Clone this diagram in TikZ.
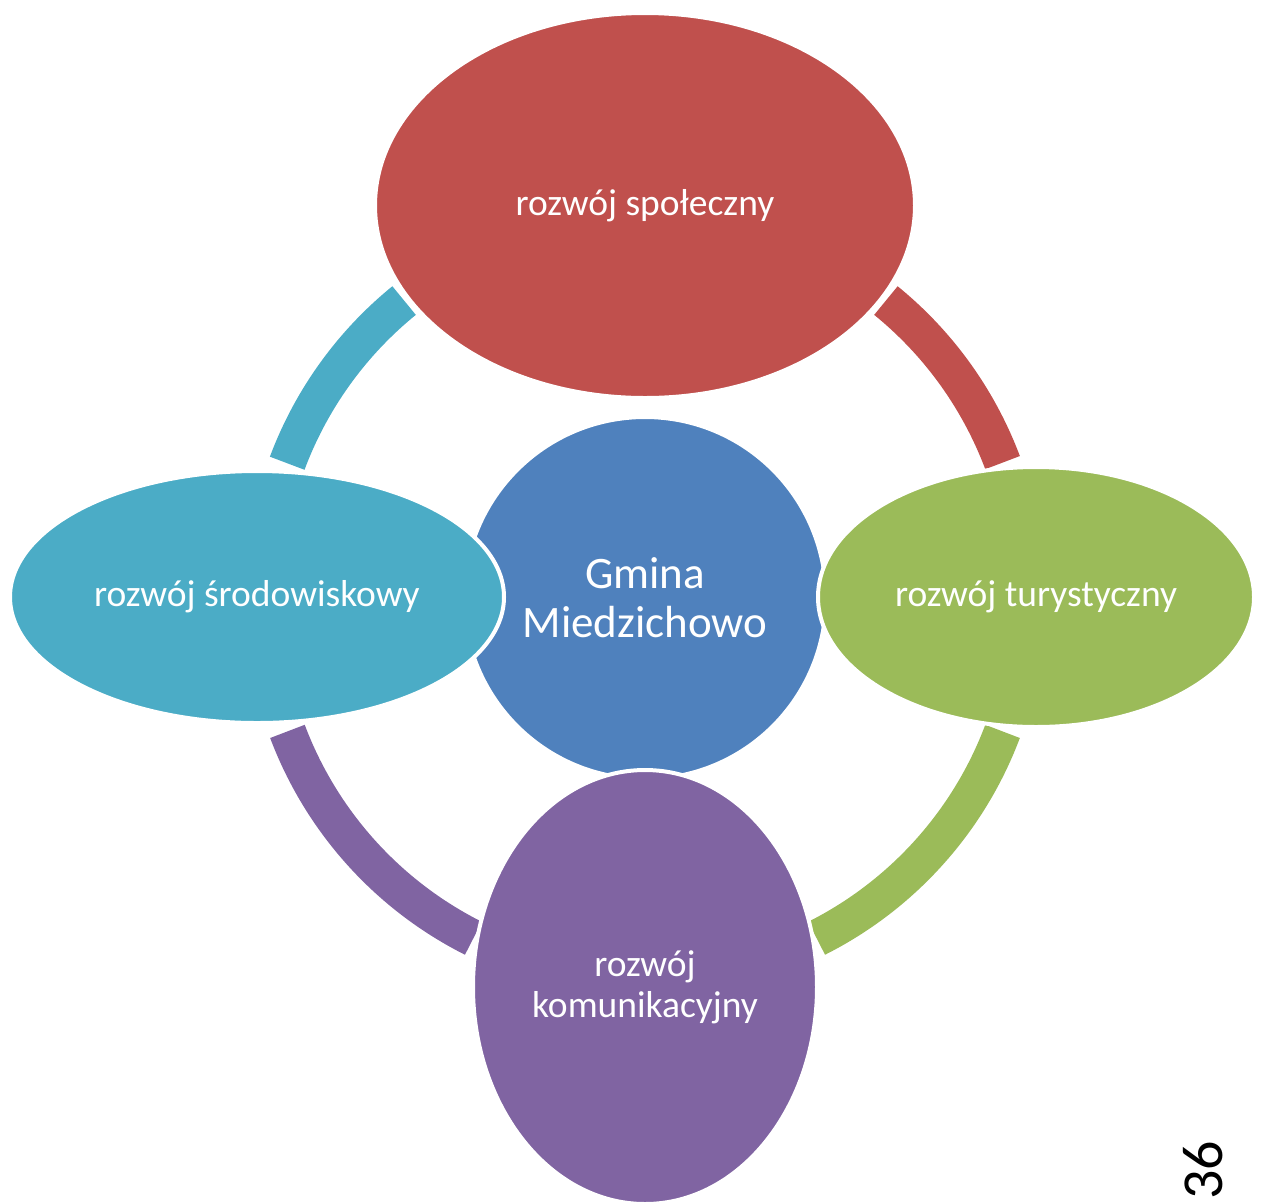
\documentclass[tikz,border=0pt]{standalone}
\usepackage{fontspec}
\setmainfont{Carlito}
\usetikzlibrary{shapes.geometric}
\definecolor{cred}{HTML}{C0504D}
\definecolor{cblue}{HTML}{4F81BD}
\definecolor{cteal}{HTML}{4BACC6}
\definecolor{cgreen}{HTML}{9BBB59}
\definecolor{cpurple}{HTML}{8064A2}
\tikzset{
  blob/.style={ellipse, inner sep=0pt, draw=white, line width=4pt, text=white, align=center},
  ringarc/.style={line width=37pt, line cap=butt},
  lbl/.style={font=\fontsize{37.5}{41}\selectfont},
}
\begin{document}
\begin{tikzpicture}[x=1pt,y=1pt]
\useasboundingbox (0,0) rectangle (1261,-1203);
\coordinate (c) at (645,-597);
% ring arcs
\draw[ringarc, cred]    ([shift={(20.6:382)}]c) arc[start angle=20.6, end angle=50.9, radius=382];
\draw[ringarc, cteal]   ([shift={(129.1:382)}]c) arc[start angle=129.1, end angle=159.5, radius=382];
\draw[ringarc, cpurple] ([shift={(-159.4:382)}]c) arc[start angle=-159.4, end angle=-116.7, radius=382];
\draw[ringarc, cgreen]  ([shift={(-63.3:382)}]c) arc[start angle=-63.3, end angle=-20.6, radius=382];
% center
\node[blob, circle, fill=cblue, minimum size=362pt, font=\fontsize{45}{49}\selectfont] (center) at (645,-598) {Gmina\\Miedzichowo};
% outer nodes
\node[blob, fill=cteal, minimum width=494pt, minimum height=252pt, lbl] (left) at (257,-597) {rozwój środowiskowy};
\node[blob, fill=cgreen, minimum width=436pt, minimum height=260pt, lbl] (right) at (1036,-597) {rozwój turystyczny};
\node[blob, fill=cred, minimum width=540pt, minimum height=385pt, lbl] (top) at (645,-205.5) {rozwój społeczny};
\node[blob, fill=cpurple, minimum width=344pt, minimum height=434pt, lbl] (bottom) at (645,-987) {rozwój\\komunikacyjny};
% page number
\node[rotate=90, font=\fontsize{58}{60}\selectfont, inner sep=0pt] (pnum) at (1203,-1170) {36};
\end{tikzpicture}
\end{document}
